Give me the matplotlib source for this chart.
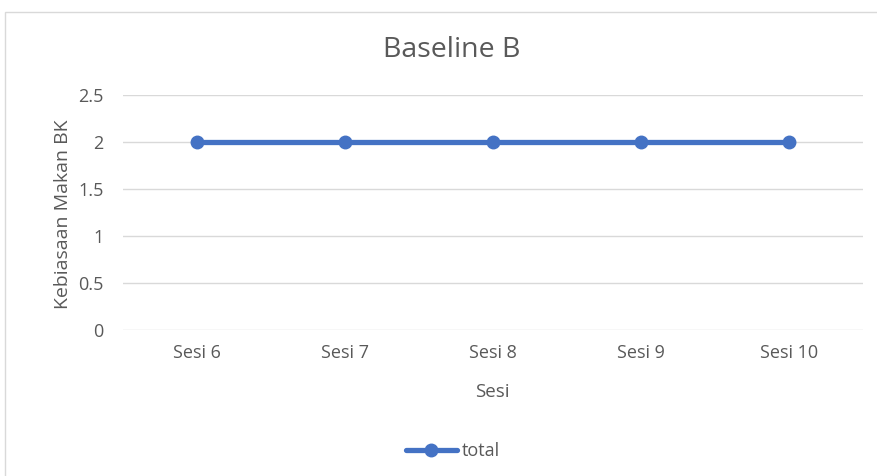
import matplotlib.pyplot as plt
from matplotlib.patches import Rectangle

sesi = ['Sesi 6', 'Sesi 7', 'Sesi 8', 'Sesi 9', 'Sesi 10']
total = [2, 2, 2, 2, 2]
yticks = [0, 0.5, 1, 1.5, 2, 2.5]

plt.rcParams['font.family'] = ['Open Sans', 'DejaVu Sans']
txt = '#595959'
blue = '#4472C4'

fig = plt.figure(figsize=(8.77, 4.76), dpi=100)
# chart frame
fig.patches.append(Rectangle((5 / 877, -0.02), 1.1, 1.02 - 12 / 476, transform=fig.transFigure,
                             fill=False, edgecolor='#d9d9d9', linewidth=1))

ax = fig.add_axes([123 / 877, 1 - 330 / 476, 740 / 877, 235 / 476])
x = range(len(sesi))
ax.plot(x, total, color=blue, linewidth=3.8, marker='o', markersize=9, label='total',
        solid_capstyle='round')
ax.set_xlim(-0.5, len(sesi) - 0.5)
ax.set_ylim(0, 2.5)
ax.set_yticks(yticks)
ax.set_yticklabels(['0', '0.5', '1', '1.5', '2', '2.5'])
ax.set_xticks(list(x))
ax.set_xticklabels(sesi)
ax.grid(axis='y', color='#d9d9d9', linewidth=1)
ax.set_axisbelow(True)
for s in ax.spines.values():
    s.set_visible(False)
ax.tick_params(length=0, colors=txt, labelsize=13, pad=10)
ax.tick_params(axis='y', pad=14)

fig.text(452 / 877, 1 - 50 / 476, 'Baseline B', ha='center', va='center', fontsize=20.5, color=txt)
fig.text(492 / 877, 1 - 392 / 476, 'Sesi', ha='center', va='center', fontsize=13.5, color=txt)
fig.text(63 / 877, 1 - 214 / 476, 'Kebiasaan Makan BK', ha='center', va='center',
         rotation=90, fontsize=14, color=txt)

leg = fig.legend(loc='center', bbox_to_anchor=(453 / 877, 1 - 451 / 476), frameon=False,
                 fontsize=13, handlelength=2.8, handletextpad=0.3)
for t in leg.get_texts():
    t.set_color(txt)

plt.savefig('out.png', dpi=100)
